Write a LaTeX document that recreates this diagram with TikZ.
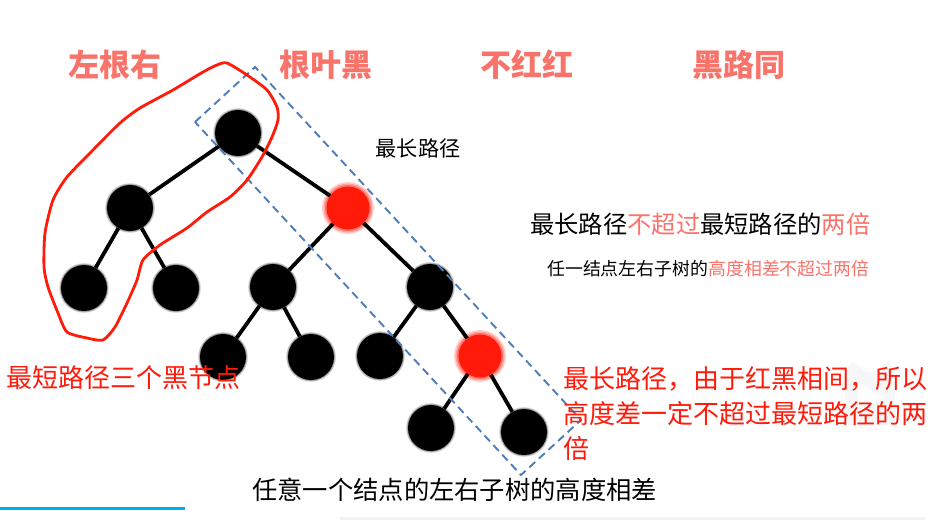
\documentclass[tikz,border=0pt]{standalone}
\usepackage{fontspec}
\setmainfont{Noto Sans CJK SC}
\definecolor{salmon}{HTML}{F8736A}
\definecolor{pure}{HTML}{FF1A0A}
\definecolor{dashblue}{HTML}{4F7DBA}
\definecolor{barblue}{HTML}{00AEEF}
\tikzset{
  blk/.style={circle,fill=black,minimum size=46pt,inner sep=0pt,
    preaction={draw=black,draw opacity=.18,line width=3.6pt},
    preaction={draw=black,draw opacity=.25,line width=1.8pt}},
  rednode/.style={circle,fill=pure,minimum size=43pt,inner sep=0pt,
    preaction={draw=pure,draw opacity=.2,line width=9pt},
    preaction={draw=pure,draw opacity=.25,line width=6pt},
    preaction={draw=pure,draw opacity=.35,line width=3pt}},
  edge/.style={line width=3.8pt,black},
  pathbox/.style={draw=dashblue,line width=1.9pt,dash pattern=on 8pt off 5pt},
  blob/.style={draw=pure,line width=2.8pt,line join=round},
  txt/.style={inner sep=0pt,anchor=west},
}
\newcommand{\fs}[1]{\fontsize{#1pt}{#1pt}\selectfont}
\begin{document}
\begin{tikzpicture}[x=1pt,y=-1pt]
\useasboundingbox (0,0) rectangle (935,520);
% faint background marks
\fill[black!3,rounded corners=5pt] (845,372) -- (852,360) -- (866,372) -- (876,372) -- (888,360) -- (895,372) -- (895,425) -- (845,425) -- cycle;
\fill[white] (858,382) -- (858,412) -- (884,397) -- cycle;
\fill[black!5] (340,517) rectangle (925,520);
% tree
\node[blk] (a) at (238,133) {};
\node[blk] (b) at (130,208) {};
\node[rednode] (c) at (348,208) {};
\node[blk] (d) at (84,288) {};
\node[blk] (e) at (176,288) {};
\node[blk] (f) at (273,287) {};
\node[blk] (g) at (430,287) {};
\node[blk] (h) at (223,357) {};
\node[blk] (i) at (311,357) {};
\node[blk] (j) at (380,356) {};
\node[rednode] (k) at (480,356) {};
\node[blk] (l) at (431,428) {};
\node[blk] (m) at (524,432) {};
\foreach \p/\q in {a/b,a/c,b/d,b/e,c/f,c/g,f/h,f/i,g/j,g/k,k/l,k/m}
  \draw[edge] (\p) -- (\q);
% dashed box
\coordinate (c1) at (195,122);
\coordinate (c2) at (255,67);
\coordinate (c3) at (581,420);
\coordinate (c4) at (521,475);
\draw[pathbox] (c1) -- (c2) -- (c3) -- (c4) -- cycle;
% red hand-drawn outline
\draw[blob] plot[smooth cycle,tension=0.4] coordinates {
(227,63) (247,75) (267,90) (277,107) (278,120) (272,137) (262,157) (247,180)
(230,197) (207,212) (187,228) (160,245) (143,260) (137,280) (127,303) (115,327)
(103,340) (87,338) (67,332) (58,313) (48,287) (44,267) (45,233) (53,200)
(67,177) (93,150) (120,123) (140,108) (173,90) (203,72) (217,65)};
% titles
\node[txt,text=salmon] (t1) at (68,65) {\fs{31}\bfseries 左根右};
\node[txt,text=salmon] (t2) at (279,65) {\fs{31}\bfseries 根叶黑};
\node[txt,text=salmon] (t3) at (480,65) {\fs{31}\bfseries 不红红};
\node[txt,text=salmon] (t4) at (692,65) {\fs{31}\bfseries 黑路同};
% notes
\node[txt] (n1) at (375.5,148) {\fs{21.2}最长路径};
\node[txt] (n2) at (530,224) {\fs{24.3}最长路径\textcolor{salmon}{不超过}最短路径的\textcolor{salmon}{两倍}};
\node[txt] (n3) at (547,269) {\fs{17.9}任一结点左右子树的\textcolor{salmon}{高度相差不超过两倍}};
\node[txt,text=pure] (n4) at (6,378) {\fs{26}最短路径三个黑节点};
\node[txt,text=pure] (n5) at (563,379) {\fs{26}最长路径，由于红黑相间，所以};
\node[txt,text=pure] (n6) at (563,414) {\fs{26}高度差一定不超过最短路径的两};
\node[txt,text=pure] (n7) at (563,449) {\fs{26}倍};
\node[txt] (n8) at (252,490) {\fs{25.3}任意一个结点的左右子树的高度相差};
% bottom bar
\fill[barblue] (0,507) rectangle (185,510);
\end{tikzpicture}
\end{document}
